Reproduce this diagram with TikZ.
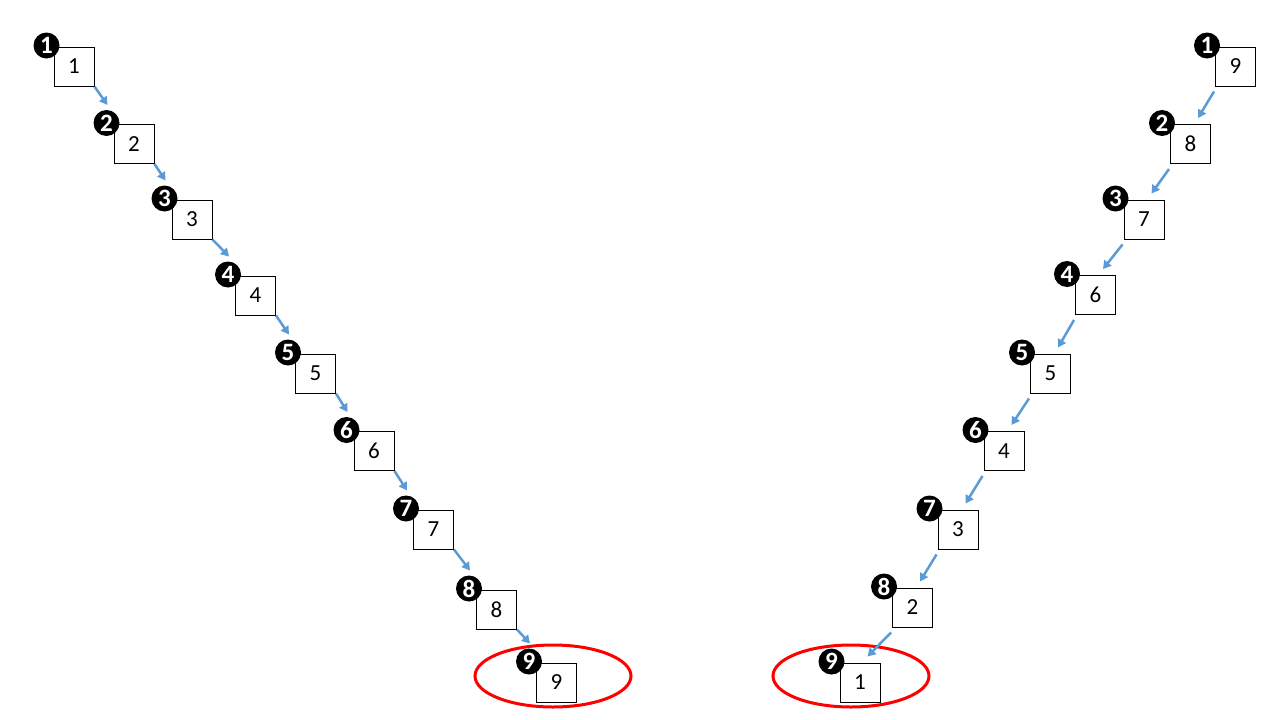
\documentclass[tikz,border=0pt]{standalone}
\usepackage{fontspec}
\setmainfont{Carlito}
\usetikzlibrary{arrows.meta,calc}
\definecolor{arrowblue}{RGB}{91,155,213}
\definecolor{ringred}{RGB}{255,0,0}
\tikzset{
  numbox/.style={draw=black,line width=1pt,minimum width=40pt,minimum height=39pt,inner sep=0pt,font=\fontsize{23}{25}\selectfont,fill=white},
  badge/.style={circle,fill=black,minimum size=26pt,inner sep=0pt,text=white,font=\fontsize{25}{27}\selectfont\bfseries},
  flow/.style={draw=arrowblue,line width=2.5pt,-{Triangle[length=8pt,width=9pt]}},
  ring/.style={draw=ringred,line width=3pt}
}
\begin{document}
\begin{tikzpicture}[x=1pt,y=-1pt]
\useasboundingbox (0,0) rectangle (1280,720);
% rings
\draw[ring] (553,676) ellipse [x radius=78,y radius=31];
\draw[ring] (851,676) ellipse [x radius=78,y radius=31];
% left column
\foreach \i/\x/\y in {1/74/66.5,2/134/144,3/192/219.5,4/255.5/295.5,5/315.5/373.5,6/374/451,7/433.5/529.5,8/496.5/609.5,9/556.5/682.5}{
  \node[numbox] (L\i) at (\x,\y) {\i};
  \node[badge] (LC\i) at ($(L\i.north west)+(-7,-1)$) {\i};
}
% right column
\foreach \i/\x/\y/\v in {1/1235.5/66.5/9,2/1190.5/144/8,3/1144/219.5/7,4/1095.5/295/6,5/1050.5/373.5/5,6/1004/451/4,7/958/529.5/3,8/912.5/607.5/2,9/860/682.5/1}{
  \node[numbox] (R\i) at (\x,\y) {\v};
  \node[badge] (RC\i) at ($(R\i.north west)+(-8,-1)$) {\i};
}
% arrows
\foreach \i/\j in {1/2,2/3,3/4,4/5,5/6,6/7,7/8,8/9}{
  \coordinate (LT\j) at ($(L\j.north west)+(-6,-19)$);
  \draw[flow] (L\i.south east) -- (LT\j);
  \coordinate (RS\i) at ($(R\i.south west)+(-1,5)$);
  \coordinate (RT\j) at ($(R\j.north west)+(28,-6)$);
  \draw[flow] (RS\i) -- (RT\j);
}
\end{tikzpicture}
\end{document}
